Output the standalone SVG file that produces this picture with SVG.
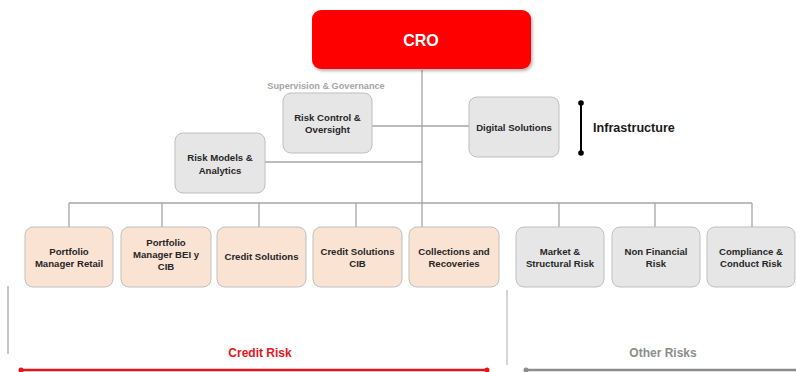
<svg xmlns="http://www.w3.org/2000/svg" width="796" height="372" viewBox="0 0 796 372">
<defs>
<style>
.t{font-family:"Liberation Sans",Arial,sans-serif;font-weight:bold;font-size:9.6px;fill:#262626;text-anchor:middle}
.peach{fill:#FBE3D4;stroke:#BFBFBF;stroke-width:1}
.gray{fill:#E6E6E6;stroke:#BFBFBF;stroke-width:1}
.ln{stroke:#A6A6A6;stroke-width:1.3;fill:none}
</style>
<filter id="sh" x="-10%" y="-10%" width="130%" height="140%">
<feDropShadow dx="1.5" dy="2" stdDeviation="1.5" flood-color="#000" flood-opacity="0.3"/>
</filter>
</defs>
<rect width="796" height="372" fill="#fff"/>
<g id="connectors">
<path class="ln" d="M422 70V227M372 126H469M265 162H422M69 203H752M69 203V227M162 203V227M259 203V227M356 203V227M559 203V227M655 203V227M752 203V227"/>
</g>
<g id="cro">
<rect x="312" y="10" width="219" height="59" rx="9" fill="#FF0000" filter="url(#sh)"/>
<text x="421" y="46" font-family="Liberation Sans,Arial,sans-serif" font-weight="bold" font-size="16" fill="#fff" text-anchor="middle">CRO</text>
</g>
<g id="supervision">
<text x="326" y="89" font-family="Liberation Sans,Arial,sans-serif" font-weight="bold" font-size="9.2" fill="#A6A6A6" text-anchor="middle">Supervision &amp; Governance</text>
</g>
<g id="risk-control">
<rect class="gray" x="283" y="93" width="89" height="60" rx="8"/>
<text class="t" x="327.5" y="121">Risk Control &amp;</text>
<text class="t" x="327.5" y="133">Oversight</text>
</g>
<g id="digital">
<rect class="gray" x="469" y="97" width="90" height="60" rx="8"/>
<text class="t" x="514" y="131">Digital Solutions</text>
</g>
<g id="risk-models">
<rect class="gray" x="175" y="133" width="90" height="60" rx="8"/>
<text class="t" x="220" y="161">Risk Models &amp;</text>
<text class="t" x="220" y="174">Analytics</text>
</g>
<g id="infrastructure">
<line x1="581" y1="103" x2="581" y2="153" stroke="#000" stroke-width="2"/>
<circle cx="581" cy="103" r="2.8" fill="#000"/>
<circle cx="581" cy="153" r="2.8" fill="#000"/>
<text x="593" y="132" font-family="Liberation Sans,Arial,sans-serif" font-weight="bold" font-size="12.6" fill="#1a1a1a">Infrastructure</text>
</g>
<g id="pm-retail">
<rect class="peach" x="25" y="227" width="88" height="60" rx="8"/>
<text class="t" x="69" y="255">Portfolio</text>
<text class="t" x="69" y="267">Manager Retail</text>
</g>
<g id="pm-bei">
<rect class="peach" x="121" y="227" width="90" height="60" rx="8"/>
<text class="t" x="166" y="246">Portfolio</text>
<text class="t" x="166" y="258">Manager BEI y</text>
<text class="t" x="166" y="270">CIB</text>
</g>
<g id="credit-solutions">
<rect class="peach" x="217" y="227" width="89" height="60" rx="8"/>
<text class="t" x="261.5" y="260">Credit Solutions</text>
</g>
<g id="credit-solutions-cib">
<rect class="peach" x="313" y="227" width="89" height="60" rx="8"/>
<text class="t" x="357.5" y="255">Credit Solutions</text>
<text class="t" x="357.5" y="267">CIB</text>
</g>
<g id="collections">
<rect class="peach" x="409" y="227" width="90" height="60" rx="8"/>
<text class="t" x="454" y="255">Collections and</text>
<text class="t" x="454" y="267">Recoveries</text>
</g>
<g id="market">
<rect class="gray" x="516" y="227" width="88" height="60" rx="8"/>
<text class="t" x="560" y="255">Market &amp;</text>
<text class="t" x="560" y="267">Structural Risk</text>
</g>
<g id="non-financial">
<rect class="gray" x="612" y="227" width="88" height="60" rx="8"/>
<text class="t" x="656" y="255">Non Financial</text>
<text class="t" x="656" y="267">Risk</text>
</g>
<g id="compliance">
<rect class="gray" x="707" y="227" width="88" height="60" rx="8"/>
<text class="t" x="751" y="255">Compliance &amp;</text>
<text class="t" x="751" y="267">Conduct Risk</text>
</g>
<g id="groups">
<line x1="8" y1="286" x2="8" y2="354" stroke="#A6A6A6" stroke-width="1.3"/>
<line x1="507" y1="290" x2="507" y2="365" stroke="#BFBFBF" stroke-width="1.3"/>
<line x1="21" y1="370" x2="487" y2="370" stroke="#E8141B" stroke-width="2.5"/>
<circle cx="21" cy="370" r="2.5" fill="#E8141B"/>
<circle cx="487" cy="370" r="2.5" fill="#E8141B"/>
<text x="260" y="357" font-family="Liberation Sans,Arial,sans-serif" font-weight="bold" font-size="12" fill="#E8141B" text-anchor="middle">Credit Risk</text>
<line x1="526" y1="370" x2="796" y2="370" stroke="#8C8C8C" stroke-width="2.5"/>
<circle cx="526" cy="370" r="2.5" fill="#8C8C8C"/>
<text x="663" y="357" font-family="Liberation Sans,Arial,sans-serif" font-weight="bold" font-size="12" fill="#8C8C8C" text-anchor="middle">Other Risks</text>
</g>
</svg>
